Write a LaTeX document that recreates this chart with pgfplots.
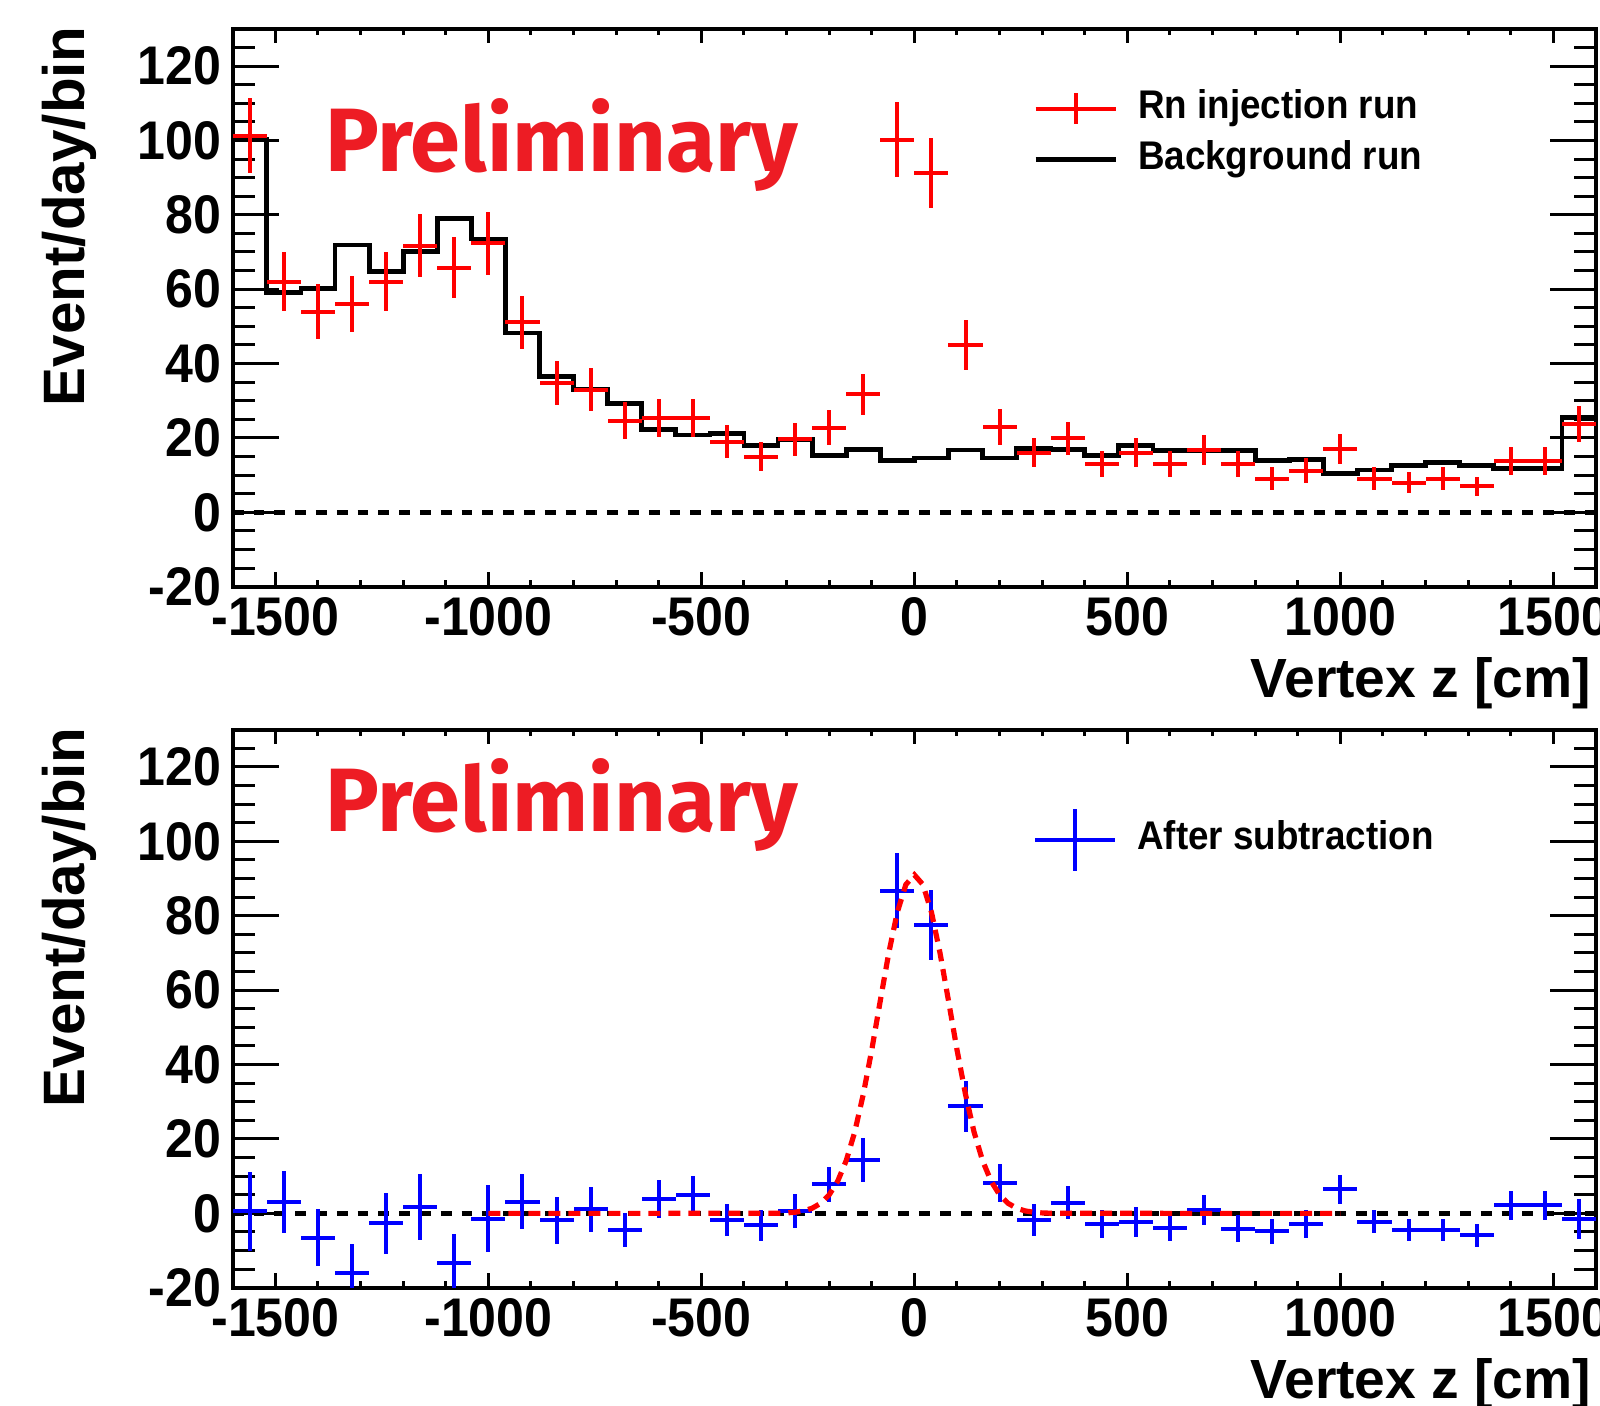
\documentclass[border=0pt]{standalone}
\usepackage{fontspec}
\setmainfont{Liberation Sans}
\newfontfamily\rootnarrow{Liberation Sans}[FakeStretch=0.92]
\newfontfamily\prelimfont{Fira Sans}
\usepackage{pgfplots}
\usepackage{pgfplotstable}
\pgfplotsset{compat=1.18}
\definecolor{prelimred}{RGB}{237,28,36}

% Rn injection run: bin centre, events/day/bin, stat. error
\pgfplotstableread{
x y ey
-1560 101.3 10.1
-1480 62.0 7.9
-1400 54.0 7.3
-1320 56.0 7.5
-1240 62.0 7.9
-1160 71.7 8.5
-1080 65.8 8.1
-1000 72.3 8.5
-920 51.1 7.1
-840 34.8 5.9
-760 33.0 5.7
-680 24.7 5.0
-600 25.4 5.0
-520 25.4 5.0
-440 19.0 4.4
-360 14.9 3.9
-280 19.6 4.4
-200 22.8 4.8
-120 31.7 5.6
-40 100.2 10.0
40 91.2 9.5
120 45.0 6.7
200 22.9 4.8
280 16.1 4.0
360 19.9 4.5
440 13.0 3.6
520 16.1 4.0
600 13.0 3.6
680 16.8 4.1
760 13.0 3.6
840 9.1 3.0
920 11.2 3.3
1000 17.0 4.1
1080 9.1 3.0
1160 8.0 2.8
1240 9.1 3.0
1320 7.0 2.6
1400 13.8 3.7
1480 13.8 3.7
1560 23.7 4.9
}\rndata

% Background run: bin lower edge, content
\pgfplotstableread{
x y
-1600 100.2
-1520 59.2
-1440 60.2
-1360 71.9
-1280 64.7
-1200 70.1
-1120 79.0
-1040 73.5
-960 48.2
-880 36.6
-800 33.0
-720 29.2
-640 22.3
-560 20.8
-480 21.2
-400 17.9
-320 19.6
-240 15.2
-160 17.0
-80 14.0
0 14.6
80 16.8
160 14.6
240 17.2
320 17.0
400 15.2
480 18.0
560 16.7
640 16.7
720 16.7
800 14.0
880 14.3
960 10.5
1040 11.4
1120 12.7
1200 13.4
1280 12.7
1360 11.8
1440 11.8
1520 25.6
1600 25.6
}\bkgdata

% After subtraction
\pgfplotstableread{
x y ey
-1560 0.6 10.6
-1480 3.1 8.3
-1400 -6.5 7.7
-1320 -16.0 7.7
-1240 -2.7 8.3
-1160 1.8 8.9
-1080 -13.2 7.7
-1000 -1.4 9.1
-920 3.1 7.4
-840 -1.8 6.3
-760 1.1 6.1
-680 -4.5 4.6
-600 3.8 5.1
-520 4.9 5.2
-440 -1.8 4.3
-360 -3.2 4.1
-280 0.7 4.6
-200 7.8 4.7
-120 14.4 5.9
-40 86.8 10.0
40 77.5 9.5
120 28.8 6.8
200 8.1 5.1
280 -1.8 4.3
360 2.9 4.4
440 -2.9 3.8
520 -2.3 4.1
600 -3.8 3.6
680 0.9 4.1
760 -4.1 3.7
840 -4.8 3.4
920 -2.9 3.7
1000 6.5 3.9
1080 -2.3 3.1
1160 -4.5 2.9
1240 -4.5 3.0
1320 -5.9 3.1
1400 2.2 3.9
1480 2.2 3.9
1560 -1.5 5.4
}\subdata

% fitted peak
\pgfplotstableread{
x y
-1000 0
-340 0.02
-320 0.05
-300 0.13
-280 0.31
-260 0.67
-240 1.39
-220 2.71
-200 4.99
-180 8.66
-160 14.2
-140 21.9
-120 32.0
-100 44.0
-80 57.2
-60 70.1
-40 81.0
-20 88.4
0 91.0
20 88.4
40 81.0
60 70.1
80 57.2
100 44.0
120 32.0
140 21.9
160 14.2
180 8.66
200 4.99
220 2.71
240 1.39
260 0.67
280 0.31
300 0.13
320 0.05
340 0.02
1000 0
}\fitdata

\pgfplotsset{rootaxis/.style={
  scale only axis, width=340.8pt, height=139.5pt,
  xmin=-1600, xmax=1600, ymin=-20, ymax=130,
  xtick={-1500,-1000,...,1500}, minor xtick={-1600,-1500,...,1600},
  ytick={-20,0,...,120}, minor ytick={-20,-15,...,130},
  tick align=inside,
  axis line style={line width=0.9pt},
  tick style={black, line width=0.75pt},
  xtick style={/pgfplots/major tick length=3.6pt, /pgfplots/minor tick length=1.6pt},
  ytick style={/pgfplots/major tick length=11.5pt, /pgfplots/minor tick length=5.6pt},
  /pgf/number format/assume math mode=true,
  /pgf/number format/1000 sep={},
  scaled ticks=false,
  tick label style={font=\rootnarrow\bfseries\fontsize{13.6}{14}\selectfont},
  xticklabel style={inner sep=0pt, yshift=-2.5pt},
  yticklabel style={inner sep=0pt, xshift=-2.7pt},
  xlabel={Vertex z [cm]},
  ylabel={Event/day/bin},
  xlabel style={font=\bfseries\fontsize{13.8}{14}\selectfont,
    at={([xshift=-1pt,yshift=-27.6pt]rel axis cs:1,0)}, anchor=base east, inner sep=0pt},
  ylabel style={font=\bfseries\fontsize{14.6}{15}\selectfont,
    at={([xshift=-33.9pt,yshift=0.8pt]rel axis cs:0,1)}, anchor=south east, inner sep=0pt},
  legend cell align=left,
  legend style={draw=none, fill=none, inner sep=0pt, outer sep=0pt,
    column sep=5pt, row sep=2.75pt,
    font=\rootnarrow\bfseries\fontsize{10}{12}\selectfont,
    nodes={inner sep=0pt, text height=7.5pt, text depth=2.5pt}},
}}

\begin{document}
\begin{tikzpicture}
\useasboundingbox (0pt,0pt) rectangle (400pt,351.5pt);

% top: Rn injection run vs background run
\begin{axis}[rootaxis, at={(58.2pt,204.8pt)}, anchor=south west,
  legend style={at={(axis cs:279,101.7)}, anchor=west}]
\addlegendimage{legend image code/.code={
  \draw[red, line width=1pt] (0pt,0pt) -- (20pt,0pt);
  \draw[red, line width=1pt] (10pt,-3.8pt) -- (10pt,3.8pt);}}
\addlegendentry{Rn injection run}
\addlegendimage{legend image code/.code={
  \draw[black, line width=1.2pt] (0pt,0pt) -- (20pt,0pt);}}
\addlegendentry{Background run}
\addplot[black, line width=1.2pt, dash pattern=on 2.7pt off 2.5pt, forget plot]
  coordinates {(-1600,0) (1600,0)};
\addplot[const plot, black, line width=1.2pt, forget plot] table {\bkgdata};
\addplot[draw=none, mark=none, forget plot,
  error bars/.cd, x dir=both, x fixed=40, y dir=both, y explicit,
  error mark=none, error bar style={draw=red, line width=1pt}]
  table[x=x, y=y, y error=ey] {\rndata};
\node[anchor=base west, inner sep=0pt, text=prelimred,
  font=\prelimfont\bfseries\fontsize{22.5}{24}\selectfont]
  at (axis cs:-1384.7,91.6) {Preliminary};
\end{axis}

% bottom: after subtraction
\begin{axis}[rootaxis, at={(58.2pt,29.55pt)}, anchor=south west,
  legend style={at={(axis cs:279,100.4)}, anchor=west}]
\addlegendimage{legend image code/.code={
  \draw[blue, line width=1pt] (0pt,0pt) -- (20pt,0pt);
  \draw[blue, line width=1pt] (10pt,-7.7pt) -- (10pt,7.7pt);}}
\addlegendentry{After subtraction}
\addplot[black, line width=1.2pt, dash pattern=on 2.7pt off 2.5pt, forget plot]
  coordinates {(-1600,0) (1600,0)};
\addplot[draw=none, mark=none, forget plot,
  error bars/.cd, x dir=both, x fixed=40, y dir=both, y explicit,
  error mark=none, error bar style={draw=blue, line width=1pt}]
  table[x=x, y=y, y error=ey] {\subdata};
\addplot[red, line width=1.3pt, dash pattern=on 3pt off 2pt, forget plot] table {\fitdata};
\node[anchor=base west, inner sep=0pt, text=prelimred,
  font=\prelimfont\bfseries\fontsize{22.5}{24}\selectfont]
  at (axis cs:-1384.7,102.6) {Preliminary};
\end{axis}
\end{tikzpicture}
\end{document}
